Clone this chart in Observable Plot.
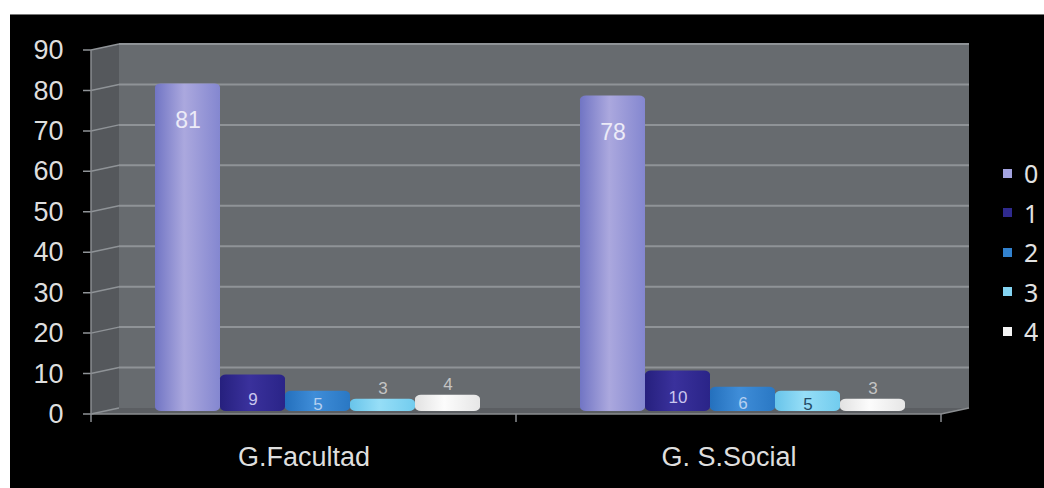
<!DOCTYPE html>
<html>
<head>
<meta charset="utf-8">
<script src="https://cdn.jsdelivr.net/npm/d3@7"></script>
<script src="https://cdn.jsdelivr.net/npm/@observablehq/plot@0.6"></script>
<style>
  html, body { margin: 0; padding: 0; background: #fff; }
  #chart { position: absolute; left: 10px; top: 14px; width: 1034px; height: 474px; background: #000; border-top: 1px solid #777; box-sizing: border-box; }
  #chart svg { display: block; }
  #key { position: absolute; left: 1003px; top: 154px; font-family: "Liberation Sans", Arial, sans-serif; }
  #key .key-swatch { display: flex !important; align-items: center; height: 38.5px; margin: 0 !important; font-size: 25px; color: #e2e2e2; }
  #key .key-swatch > svg { margin-right: 12px !important; }
</style>
</head>
<body>
<div id="chart"></div>
<div id="key"></div>
<script>
// Categories, series and values
const groups = ["G.Facultad", "G. S.Social"];
const series = ["0", "1", "2", "3", "4"];
const facultad = [81, 9, 5, 3, 4];
const social = [78, 10, 6, 5, 3];
const yTicks = [0, 10, 20, 30, 40, 50, 60, 70, 80, 90];

// Shading of each cylinder: [edge, highlight, edge]
const barShades = [
  ["#7175c4", "#aba8de", "#8487d0"],
  ["#26207e", "#3a319c", "#2a2488"],
  ["#2470bd", "#3f8dd8", "#2a78c4"],
  ["#68c4ea", "#96def7", "#72ccee"],
  ["#e2e2e2", "#fcfcfc", "#e6e6e6"]
];
const swatchColors = ["#a3a3e0", "#2f2a8e", "#3282cf", "#84d4f2", "#f4f4f4"];
const insideLabelColors = ["#ecebf7", "#c9c6ee", "#b5d0f0", "#234a66", "#333333"];

const rows = groups.flatMap((g, gi) =>
  series.map((s, si) => ({group: g, series: s, value: [facultad, social][gi][si]}))
);

// 3D box: depth offset of the back wall relative to the front edge
const depthX = 28, depthY = 6;
const wallFill = "#676b6f", sideFill = "#55585c", floorFill = "#5b5e62", gridStroke = "#8f9397", edgeStroke = "#8a8d90";

// Walls, floor and gridlines; drawn once, from the first category panel
let chromeDrawn = false;
function chrome(index, scales) {
  const g = d3.create("svg:g");
  if (chromeDrawn) return g.node();
  chromeDrawn = true;
  const {x, y} = scales;
  const [x0, xb] = x.range();
  const band = xb - x0;
  const x1 = x0 + band * groups.length;
  const yBase = y(0), yTop = y(yTicks[yTicks.length - 1]);

  const defs = g.append("defs");
  barShades.forEach((shade, i) => {
    const lg = defs.append("linearGradient").attr("id", `cyl-${series[i]}`)
      .attr("x1", "0").attr("x2", "1").attr("y1", "0").attr("y2", "0");
    lg.append("stop").attr("offset", "0%").attr("stop-color", shade[0]);
    lg.append("stop").attr("offset", "45%").attr("stop-color", shade[1]);
    lg.append("stop").attr("offset", "100%").attr("stop-color", shade[2]);
  });

  // back wall
  g.append("rect")
    .attr("x", x0 + depthX).attr("y", yTop - depthY)
    .attr("width", x1 - x0).attr("height", yBase - yTop)
    .attr("fill", wallFill);
  for (const v of yTicks.slice(1)) {
    g.append("line")
      .attr("x1", x0 + depthX).attr("x2", x1 + depthX)
      .attr("y1", y(v) - depthY).attr("y2", y(v) - depthY)
      .attr("stroke", gridStroke).attr("stroke-width", 2);
  }
  // floor
  g.append("polygon")
    .attr("points", [[x0, yBase], [x1, yBase], [x1 + depthX, yBase - depthY], [x0 + depthX, yBase - depthY]].join(" "))
    .attr("fill", floorFill);
  g.append("polyline")
    .attr("points", [[x0, yBase], [x1, yBase], [x1 + depthX, yBase - depthY]].join(" "))
    .attr("fill", "none").attr("stroke", edgeStroke).attr("stroke-width", 1.5);
  // category separators on the front floor edge
  for (let i = 0; i <= groups.length; ++i) {
    const xt = x0 + band * i;
    g.append("line").attr("x1", xt).attr("x2", xt).attr("y1", yBase).attr("y2", yBase + 8)
      .attr("stroke", edgeStroke).attr("stroke-width", 1.5);
  }
  // left side wall with slanted gridlines
  g.append("polygon")
    .attr("points", [[x0, yBase], [x0, yTop], [x0 + depthX, yTop - depthY], [x0 + depthX, yBase - depthY]].join(" "))
    .attr("fill", sideFill);
  for (const v of yTicks) {
    g.append("polyline")
      .attr("points", [[x0 - 8, y(v)], [x0, y(v)], [x0 + depthX, y(v) - depthY]].join(" "))
      .attr("fill", "none").attr("stroke", gridStroke).attr("stroke-width", 1.5);
  }
  g.append("line").attr("x1", x0).attr("x2", x0).attr("y1", yBase).attr("y2", yTop)
    .attr("stroke", edgeStroke).attr("stroke-width", 1.5);
  return g.node();
}

const chart = Plot.plot({
  width: 1034,
  height: 474,
  marginTop: 35,
  marginBottom: 75,
  marginLeft: 80,
  marginRight: 103,
  style: {background: "transparent", color: "#dedede", fontFamily: "'Liberation Sans', Arial, sans-serif", fontSize: "27px"},
  fx: {domain: groups, padding: 0, label: null, axis: "bottom", tickSize: 0, tickPadding: 32},
  x: {domain: series, paddingInner: 0, paddingOuter: 0.743, axis: null},
  y: {domain: [0, 90], ticks: yTicks, tickSize: 0, tickPadding: 28, label: null},
  color: {domain: series, range: series.map(s => `url(#cyl-${s})`)},
  marks: [
    chrome,
    Plot.barY(rows, {fx: "group", x: "series", y: "value", fill: "series", dx: 14, dy: -3, rx: 6, ry: 4}),
    Plot.text(rows.filter(d => d.value >= 5), {
      fx: "group", x: "series",
      y: d => Math.max(d.value - 9, d.value / 3),
      text: d => String(d.value),
      dx: 14, dy: -3,
      fill: d => insideLabelColors[series.indexOf(d.series)],
      fontSize: d => d.value >= 50 ? 23 : 17
    }),
    Plot.text(rows.filter(d => d.value < 5), {
      fx: "group", x: "series", y: "value",
      text: d => String(d.value),
      dx: 14, dy: -14,
      fill: "#c4c4c4", fontSize: 17
    })
  ]
});
document.getElementById("chart").append(chart);

const key = Plot.legend({
  color: {type: "ordinal", domain: series, range: swatchColors},
  legend: "swatches",
  swatchSize: 9,
  columns: 1,
  className: "key"
});
document.getElementById("key").append(key);
</script>
</body>
</html>
